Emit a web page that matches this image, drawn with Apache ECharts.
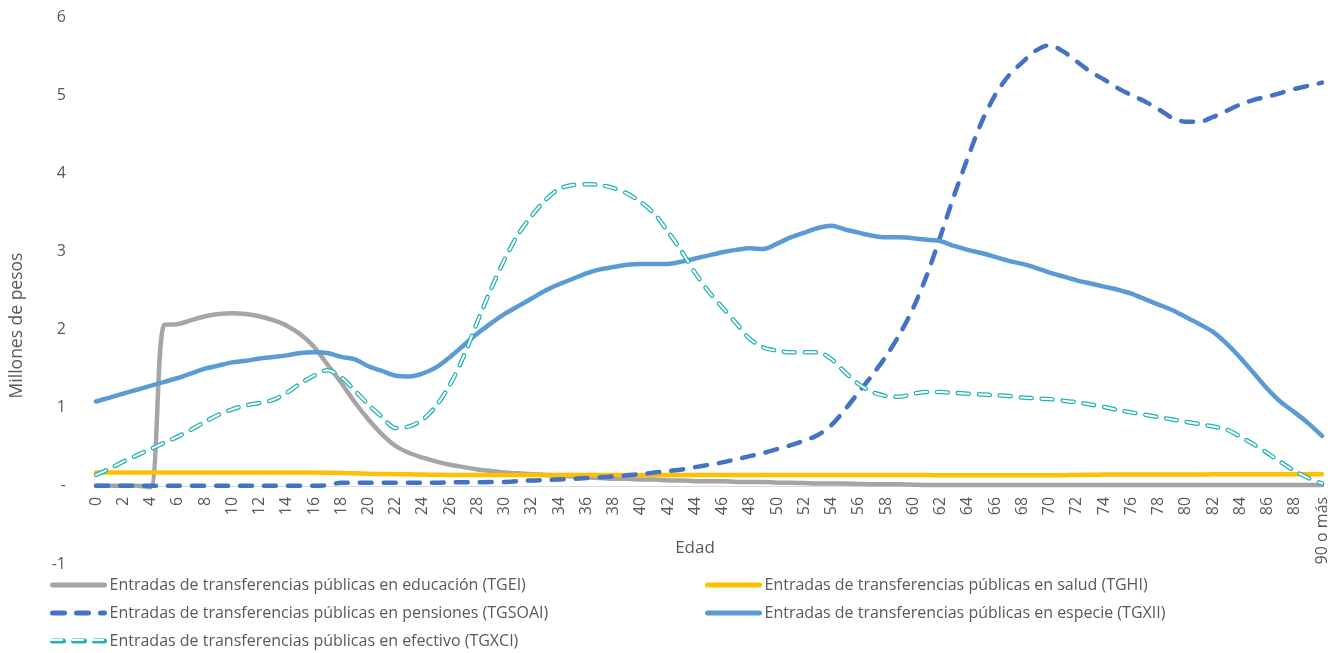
<!DOCTYPE html>
<html>
<head>
<meta charset="utf-8">
<script src="https://cdn.jsdelivr.net/npm/echarts@6/dist/echarts.min.js"></script>
<style>
  html, body { margin: 0; padding: 0; background: #fff; }
  #chart { width: 1339px; height: 653px; }
</style>
</head>
<body>
<div id="chart"></div>
<script>
// edades 0..89 y "90 o más"
var edades = [];
for (var e = 0; e < 90; e++) edades.push(String(e));
edades.push('90 o más');

var yTicks = [-1, 0, 1, 2, 3, 4, 5, 6];

var nombres = [
  'Entradas de transferencias públicas en educación (TGEI)',
  'Entradas de transferencias públicas en salud (TGHI)',
  'Entradas de transferencias públicas en pensiones (TGSOAI)',
  'Entradas de transferencias públicas en especie (TGXII)',
  'Entradas de transferencias públicas en efectivo (TGXCI)'
];

var tgei = [0, 0, 0, 0, -0.02, 2.06, 2.07, 2.12, 2.17, 2.2,
  2.21, 2.2, 2.17, 2.12, 2.05, 1.94, 1.78, 1.55, 1.32, 1.07,
  0.85, 0.66, 0.51, 0.42, 0.36, 0.31, 0.27, 0.24, 0.21, 0.19,
  0.17, 0.16, 0.15, 0.14, 0.13, 0.12, 0.11, 0.1, 0.09, 0.09,
  0.08, 0.08, 0.07, 0.07, 0.06, 0.06, 0.06, 0.05, 0.05, 0.05,
  0.04, 0.04, 0.035, 0.03, 0.03, 0.03, 0.025, 0.02, 0.02, 0.02,
  0.015, 0.01, 0.01, 0.01, 0.01, 0.01, 0.01, 0.01, 0.01, 0.01,
  0.01, 0.01, 0.01, 0.01, 0.01, 0.01, 0.01, 0.01, 0.01, 0.01,
  0.01, 0.01, 0.01, 0.01, 0.01, 0.01, 0.01, 0.01, 0.01, 0.01, 0.01];

var tghi = [0.17, 0.17, 0.17, 0.17, 0.17, 0.17, 0.17, 0.17, 0.17, 0.17,
  0.17, 0.17, 0.17, 0.17, 0.17, 0.17, 0.17, 0.168, 0.165, 0.16,
  0.155, 0.152, 0.15, 0.147, 0.145, 0.142, 0.14, 0.14, 0.14, 0.14,
  0.14, 0.14, 0.14, 0.14, 0.14, 0.14, 0.14, 0.14, 0.14, 0.14,
  0.14, 0.14, 0.14, 0.14, 0.14, 0.14, 0.14, 0.14, 0.14, 0.14,
  0.14, 0.14, 0.14, 0.14, 0.14, 0.14, 0.14, 0.14, 0.14, 0.14,
  0.14, 0.138, 0.136, 0.135, 0.135, 0.135, 0.135, 0.135, 0.135, 0.135,
  0.135, 0.137, 0.14, 0.142, 0.144, 0.145, 0.145, 0.145, 0.145, 0.145,
  0.145, 0.146, 0.147, 0.148, 0.149, 0.15, 0.15, 0.15, 0.15, 0.15, 0.15];

var tgsoai = [0, 0, 0, 0, 0, 0, 0, 0, 0, 0,
  0, 0, 0, 0, 0, 0, 0, 0.01, 0.04, 0.04,
  0.04, 0.04, 0.04, 0.04, 0.04, 0.04, 0.045, 0.045, 0.045, 0.05,
  0.05, 0.06, 0.07, 0.075, 0.08, 0.09, 0.1, 0.11, 0.12, 0.135,
  0.15, 0.17, 0.19, 0.21, 0.24, 0.27, 0.3, 0.34, 0.38, 0.42,
  0.47, 0.52, 0.58, 0.65, 0.78, 0.98, 1.2, 1.42, 1.66, 1.94,
  2.28, 2.7, 3.2, 3.72, 4.2, 4.65, 5.0, 5.25, 5.42, 5.57,
  5.64, 5.56, 5.43, 5.3, 5.2, 5.09, 5.0, 4.92, 4.82, 4.71,
  4.66, 4.66, 4.72, 4.8, 4.88, 4.94, 4.98, 5.03, 5.08, 5.12, 5.16];

var tgxii = [1.08, 1.13, 1.18, 1.23, 1.28, 1.33, 1.38, 1.44, 1.5, 1.54,
  1.58, 1.6, 1.63, 1.65, 1.67, 1.7, 1.71, 1.7, 1.65, 1.62,
  1.53, 1.47, 1.41, 1.4, 1.44, 1.52, 1.65, 1.8, 1.95, 2.08,
  2.2, 2.3, 2.4, 2.5, 2.58, 2.65, 2.72, 2.77, 2.8, 2.83,
  2.84, 2.84, 2.84, 2.87, 2.91, 2.95, 2.99, 3.02, 3.04, 3.03,
  3.1, 3.18, 3.24, 3.3, 3.33, 3.28, 3.24, 3.2, 3.18, 3.18,
  3.17, 3.15, 3.13, 3.07, 3.02, 2.98, 2.93, 2.88, 2.84, 2.79,
  2.73, 2.68, 2.63, 2.59, 2.55, 2.51, 2.46, 2.39, 2.32, 2.25,
  2.16, 2.07, 1.97, 1.82, 1.64, 1.44, 1.24, 1.07, 0.94, 0.8, 0.64];

var tgxci = [0.14, 0.22, 0.31, 0.39, 0.47, 0.55, 0.63, 0.72, 0.82, 0.91,
  0.98, 1.03, 1.06, 1.1, 1.19, 1.31, 1.41, 1.48, 1.39, 1.22,
  1.04, 0.88, 0.74, 0.76, 0.85, 1.03, 1.3, 1.66, 2.1, 2.52,
  2.9, 3.22, 3.46, 3.66, 3.8, 3.85, 3.86, 3.85, 3.81, 3.74,
  3.63, 3.48, 3.25, 3.0, 2.72, 2.48, 2.28, 2.08, 1.88, 1.77,
  1.73, 1.71, 1.71, 1.71, 1.62, 1.45, 1.3, 1.2, 1.15, 1.14,
  1.18, 1.2, 1.2, 1.19, 1.18, 1.17, 1.16, 1.15, 1.13, 1.12,
  1.11, 1.09, 1.07, 1.04, 1.01, 0.97, 0.94, 0.91, 0.88, 0.85,
  0.82, 0.79, 0.76, 0.72, 0.63, 0.53, 0.42, 0.3, 0.19, 0.1, 0.03];

var colores = ['#A5A5A5', '#FFC000', '#4472C4', '#5B9BD5', '#22B2B4'];
var txt = '#595959';
var fuente = 'Open Sans';

var gridTop = 17, gridBottom = 89, alto = 653;
// el eje x se dibuja en el cero: sube una unidad desde el borde inferior
var unidad = (alto - gridTop - gridBottom) / (yTicks[yTicks.length - 1] - yTicks[0]);

var chart = echarts.init(document.getElementById('chart'));

function linea(nombre, datos, color, extra) {
  var s = {
    name: nombre,
    type: 'line',
    data: datos,
    symbol: 'none',
    smooth: 0.3,
    lineStyle: { color: color, width: 4.5, cap: 'round', join: 'round' },
    itemStyle: { color: color },
    emphasis: { disabled: true }
  };
  if (extra) {
    for (var k in extra) s.lineStyle[k] = extra[k];
  }
  return s;
}

var legendBase = {
  orient: 'vertical',
  padding: 0,
  itemWidth: 52,
  itemHeight: 14,
  itemGap: 12,
  itemStyle: { opacity: 0 },
  lineStyle: { width: 5 },
  textStyle: { color: txt, fontSize: 16, fontFamily: fuente },
  selectedMode: false
};

var option = {
  backgroundColor: '#fff',
  animation: false,
  grid: {
    left: 96, right: 17, top: gridTop, bottom: gridBottom, containLabel: false,
    outerBounds: { left: -500, right: -500, top: -500, bottom: -500 }
  },
  legend: [
    Object.assign({}, legendBase, { left: 50, top: 577, data: [nombres[0], nombres[2], nombres[4]] }),
    Object.assign({}, legendBase, { left: 705, top: 577, data: [nombres[1], nombres[3]] }),
    Object.assign({}, legendBase, { left: 50, top: 633, data: ['relleno'],
      lineStyle: { width: 2 },
      formatter: function () { return ''; } })
  ],
  xAxis: {
    type: 'category',
    data: edades,
    boundaryGap: false,
    position: 'bottom',
    offset: -unidad,
    name: 'Edad',
    nameLocation: 'middle',
    nameGap: 54,
    nameMoveOverlap: false,
    nameTextStyle: { color: txt, fontSize: 17, fontFamily: fuente, padding: [0, 28, 0, 0] },
    axisLine: { onZero: false, lineStyle: { color: '#D9D9D9', width: 1 } },
    axisTick: { show: false },
    axisLabel: { interval: 1, rotate: 90, color: txt, fontSize: 16, fontFamily: fuente, margin: 11 },
    splitLine: { show: false }
  },
  yAxis: {
    type: 'value',
    min: yTicks[0],
    max: yTicks[yTicks.length - 1],
    interval: 1,
    name: 'Millones de pesos',
    nameLocation: 'middle',
    nameGap: 70,
    nameTextStyle: { color: txt, fontSize: 17.5, fontFamily: fuente, padding: [0, 70, 0, 0] },
    axisLine: { show: false },
    axisTick: { show: false },
    splitLine: { show: false },
    axisLabel: {
      color: txt, fontSize: 16, fontFamily: fuente, margin: 30,
      formatter: function (v) { return v === 0 ? '-' : String(v); }
    }
  },
  series: [
    linea(nombres[0], tgei, colores[0]),
    linea(nombres[1], tghi, colores[1]),
    linea(nombres[2], tgsoai, colores[2], { type: [12, 12] }),
    linea(nombres[3], tgxii, colores[3]),
    linea(nombres[4], tgxci, colores[4], { type: [11, 10], width: 4.5 }),
    linea('relleno', tgxci, '#ffffff', { type: [11, 10], width: 2 })
  ]
};

chart.setOption(option);
</script>
</body>
</html>
